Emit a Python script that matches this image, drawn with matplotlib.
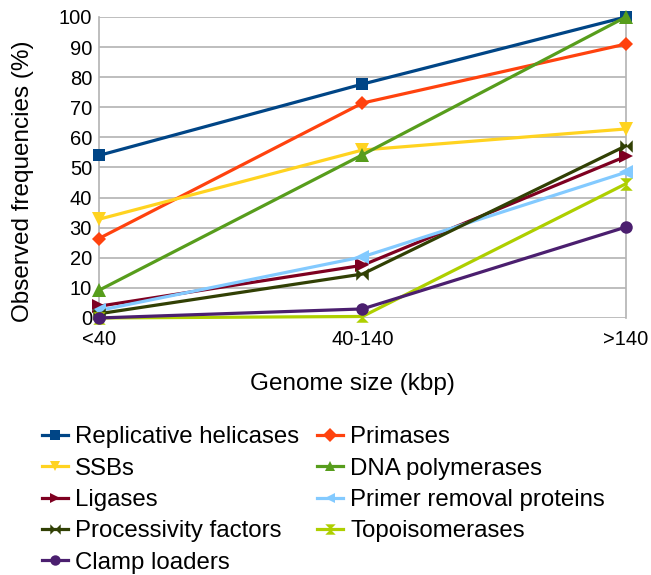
import matplotlib
matplotlib.use('Agg')
import matplotlib.pyplot as plt
from matplotlib.path import Path

# genome size classes
categories = ['<40', '40-140', '>140']

# observed frequencies (%) per protein class
replicative_helicases = [54, 77.7, 100]
primases = [26.4, 71.4, 91]
ssbs = [32.8, 55.8, 62.8]
dna_polymerases = [9.2, 54.2, 100]
ligases = [3.9, 17.5, 53.7]
primer_removal = [2.5, 20.3, 48.4]
processivity_factors = [1.4, 14.6, 57.2]
topoisomerases = [0, 0.5, 44.6]
clamp_loaders = [0, 3.0, 30.2]

# custom markers (bowtie and hourglass)
bowtie = Path([(-1, -1), (-1, 1), (0, 0), (1, 1), (1, -1), (0, 0), (-1, -1)],
              [Path.MOVETO] + [Path.LINETO] * 5 + [Path.CLOSEPOLY])
hourglass = Path([(-1, 1), (1, 1), (0, 0), (1, -1), (-1, -1), (0, 0), (-1, 1)],
                 [Path.MOVETO] + [Path.LINETO] * 5 + [Path.CLOSEPOLY])

series = [
	('Replicative helicases', replicative_helicases, '#004586', 's', 9),
	('Primases', primases, '#ff420e', 'D', 7),
	('SSBs', ssbs, '#ffd320', 'v', 10),
	('DNA polymerases', dna_polymerases, '#579d1c', '^', 10),
	('Ligases', ligases, '#7e0021', '>', 10),
	('Primer removal proteins', primer_removal, '#83caff', '<', 10),
	('Processivity factors', processivity_factors, '#314004', bowtie, 9),
	('Topoisomerases', topoisomerases, '#aecf00', hourglass, 9),
	('Clamp loaders', clamp_loaders, '#4b1f6f', 'o', 9),
]

plt.rcParams['font.family'] = ['Liberation Sans', 'DejaVu Sans']
fig = plt.figure(figsize=(6.51, 5.75), dpi=100)
ax = fig.add_axes([0.152, 0.447, 0.8095, 0.5235])

x = list(range(len(categories)))
handles = {}
for name, vals, color, marker, ms in series:
	line, = ax.plot(x, vals, color=color, lw=2.3, marker=marker, markersize=ms,
					markeredgewidth=0, label=name, clip_on=False, zorder=3)
	handles[name] = line

ax.set_xlim(0, 2)
ax.set_ylim(0, 100)
ax.set_yticks(range(0, 101, 10))
ax.set_xticks(x)
ax.set_xticklabels(categories)
ax.tick_params(axis='both', length=0, labelsize=14.5, colors='black')
ax.tick_params(axis='y', pad=5)
ax.tick_params(axis='x', pad=9)
ax.grid(axis='y', color='#b3b3b3', lw=1.2)
ax.set_axisbelow(True)
for side in ['top', 'bottom']:
	ax.spines[side].set_visible(False)
for side in ['left', 'right']:
	ax.spines[side].set_color('#b3b3b3')
	ax.spines[side].set_linewidth(1.2)

fig.text(23 / 651, 1 - 181 / 575, 'Observed frequencies (%)', rotation=90,
		 ha='center', va='center', fontsize=17.5)
fig.text(352 / 651, 1 - 384 / 575, 'Genome size (kbp)', ha='center', va='center', fontsize=17.5)

# column-wise order so legend reads row by row like the original
order = ['Replicative helicases', 'SSBs', 'Ligases', 'Processivity factors', 'Clamp loaders',
		 'Primases', 'DNA polymerases', 'Primer removal proteins', 'Topoisomerases']
leg = fig.legend([handles[n] for n in order], order, ncol=2, loc='upper left',
				 bbox_to_anchor=(0.064, 0.2585), frameon=False, fontsize=17.3,
				 handlelength=1.1, handletextpad=0.28, columnspacing=0.75,
				 labelspacing=0.39, borderaxespad=0, borderpad=0)
for h in leg.legend_handles:
	h.set_markersize(7.5)

fig.savefig('out.png', dpi=100)
